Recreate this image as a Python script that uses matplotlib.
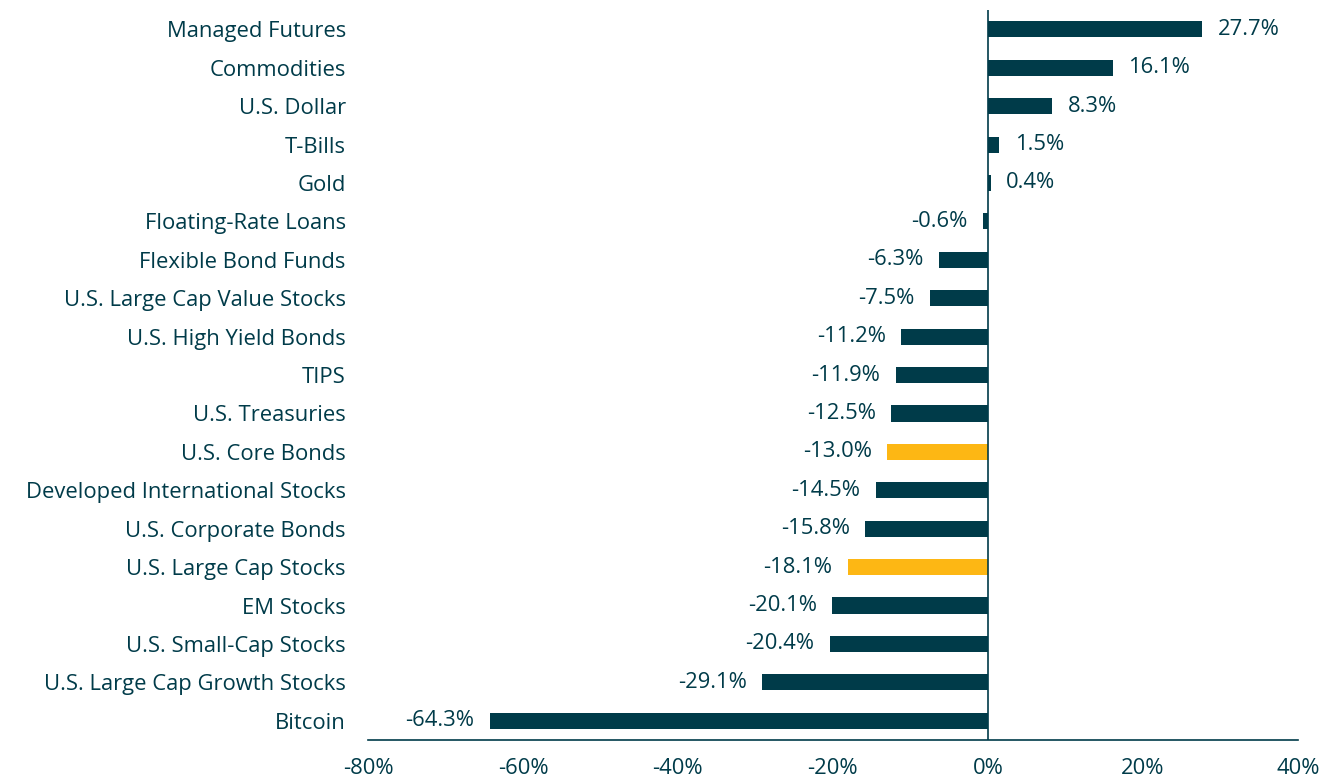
import matplotlib
matplotlib.use("Agg")
import matplotlib.pyplot as plt
from matplotlib.ticker import FuncFormatter

categories = [
    "Managed Futures", "Commodities", "U.S. Dollar", "T-Bills", "Gold",
    "Floating-Rate Loans", "Flexible Bond Funds", "U.S. Large Cap Value Stocks",
    "U.S. High Yield Bonds", "TIPS", "U.S. Treasuries", "U.S. Core Bonds",
    "Developed International Stocks", "U.S. Corporate Bonds", "U.S. Large Cap Stocks",
    "EM Stocks", "U.S. Small-Cap Stocks", "U.S. Large Cap Growth Stocks", "Bitcoin",
]
returns = [27.7, 16.1, 8.3, 1.5, 0.4, -0.6, -6.3, -7.5, -11.2, -11.9, -12.5,
           -13.0, -14.5, -15.8, -18.1, -20.1, -20.4, -29.1, -64.3]
highlighted = ["U.S. Core Bonds", "U.S. Large Cap Stocks"]
x_ticks = [-80, -60, -40, -20, 0, 20, 40]

TEAL = "#003B49"
GOLD = "#FDB714"

plt.rcParams["font.family"] = ["Open Sans", "DejaVu Sans"]
FS = 15.8

fig = plt.figure(figsize=(13.27, 7.80), dpi=100)
ax = fig.add_axes([0.2773, 0.0513, 0.7007, 0.9357])

ypos = list(range(len(categories)))[::-1]
colors = [GOLD if c in highlighted else TEAL for c in categories]
ax.barh(ypos, returns, height=0.42, color=colors, zorder=2)

for y, v in zip(ypos, returns):
    if v >= 0:
        ax.annotate(f"{v:.1f}%", (v, y), xytext=(11, 0), textcoords="offset points",
                    ha="left", va="center", fontsize=FS, color=TEAL)
    else:
        ax.annotate(f"{v:.1f}%", (v, y), xytext=(-11, 0), textcoords="offset points",
                    ha="right", va="center", fontsize=FS, color=TEAL)

ax.axvline(0, color=TEAL, linewidth=1.2, zorder=3)

ax.set_xlim(-80, 40)
ax.set_ylim(-0.5, len(categories) - 0.5)
ax.set_xticks(x_ticks)
ax.xaxis.set_major_formatter(FuncFormatter(lambda v, _: f"{v:.0f}%"))
ax.set_yticks(ypos)
ax.set_yticklabels(categories)
ax.tick_params(axis="both", length=0, labelsize=FS, labelcolor=TEAL)
ax.tick_params(axis="y", pad=16)
ax.tick_params(axis="x", pad=13)

for side in ["left", "right", "top"]:
    ax.spines[side].set_visible(False)
ax.spines["bottom"].set_color(TEAL)
ax.spines["bottom"].set_linewidth(1.2)

fig.savefig("out.png", dpi=100)
